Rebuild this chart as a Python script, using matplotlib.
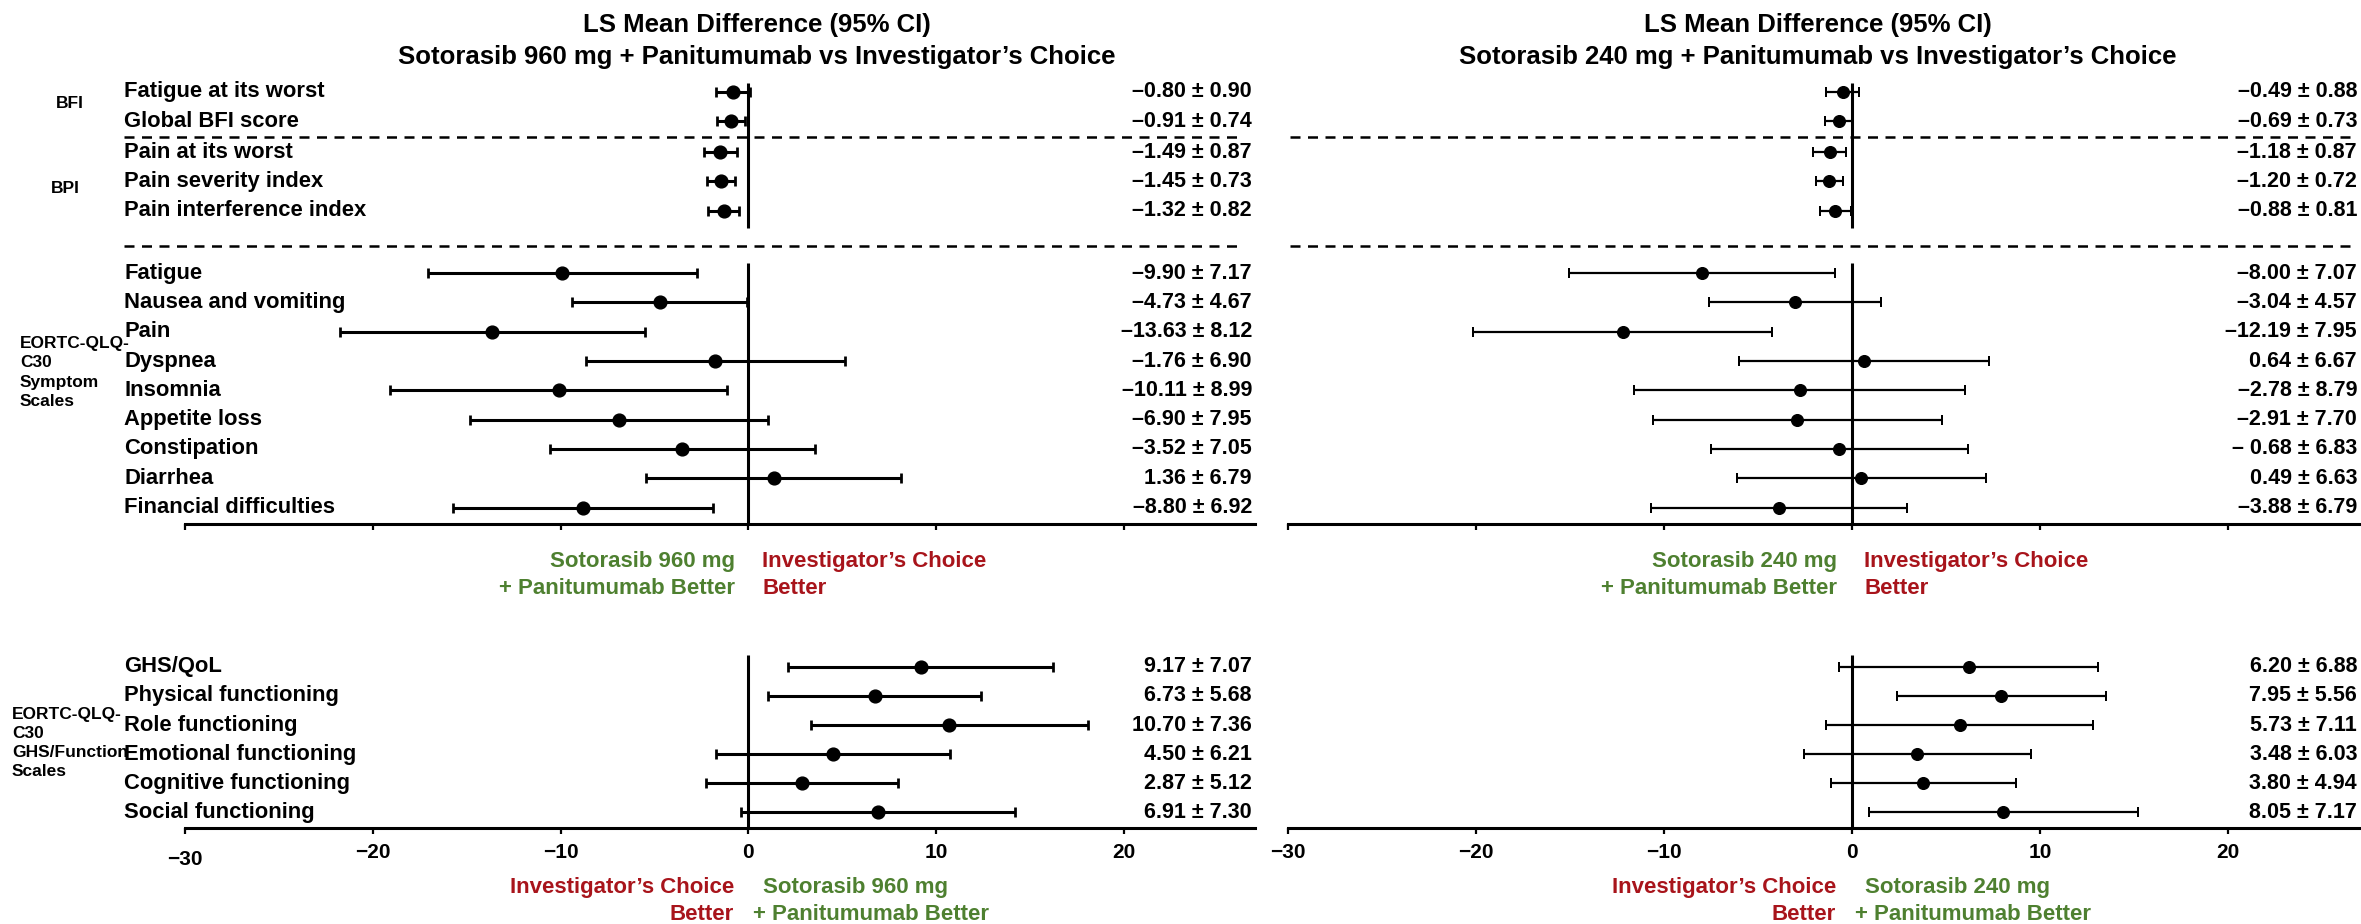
import numpy as np
import matplotlib
matplotlib.use("Agg")
import matplotlib.pyplot as plt
from matplotlib import font_manager
from matplotlib.transforms import blended_transform_factory, ScaledTranslation

# ---------------- data ----------------
bfi_labels = ["Fatigue at its worst", "Global BFI score"]
bpi_labels = ["Pain at its worst", "Pain severity index", "Pain interference index"]
symptom_labels = ["Fatigue", "Nausea and vomiting", "Pain", "Dyspnea", "Insomnia",
                  "Appetite loss", "Constipation", "Diarrhea", "Financial difficulties"]
function_labels = ["GHS/QoL", "Physical functioning", "Role functioning",
                   "Emotional functioning", "Cognitive functioning", "Social functioning"]

# Sotorasib 960 mg + panitumumab vs investigator's choice (LS mean difference, 95% CI half-width)
bfi_960_mean = [-0.80, -0.91]
bfi_960_ci = [0.90, 0.74]
bpi_960_mean = [-1.49, -1.45, -1.32]
bpi_960_ci = [0.87, 0.73, 0.82]
sym_960_mean = [-9.90, -4.73, -13.63, -1.76, -10.11, -6.90, -3.52, 1.36, -8.80]
sym_960_ci = [7.17, 4.67, 8.12, 6.90, 8.99, 7.95, 7.05, 6.79, 6.92]
fun_960_mean = [9.17, 6.73, 10.70, 4.50, 2.87, 6.91]
fun_960_ci = [7.07, 5.68, 7.36, 6.21, 5.12, 7.30]

# Sotorasib 240 mg + panitumumab vs investigator's choice
bfi_240_mean = [-0.49, -0.69]
bfi_240_ci = [0.88, 0.73]
bpi_240_mean = [-1.18, -1.20, -0.88]
bpi_240_ci = [0.87, 0.72, 0.81]
sym_240_mean = [-8.00, -3.04, -12.19, 0.64, -2.78, -2.91, -0.68, 0.49, -3.88]
sym_240_ci = [7.07, 4.57, 7.95, 6.67, 8.79, 7.70, 6.83, 6.63, 6.79]
fun_240_mean = [6.20, 7.95, 5.73, 3.48, 3.80, 8.05]
fun_240_ci = [6.88, 5.56, 7.11, 6.03, 4.94, 7.17]

x_ticks = [-30, -20, -10, 0, 10, 20]

# ---------------- style ----------------
installed = {f.name for f in font_manager.fontManager.ttflist}
MAIN_FONT = "Liberation Sans" if "Liberation Sans" in installed else "DejaVu Sans"
NARROW_FONT = "Liberation Sans Narrow" if "Liberation Sans Narrow" in installed else MAIN_FONT
plt.rcParams["font.family"] = [MAIN_FONT, "DejaVu Sans"]
plt.rcParams["font.weight"] = "bold"

GREEN = "#4E8030"
RED = "#A8141B"

W, H = 2361, 924
fig = plt.figure(figsize=(W / 100, H / 100), dpi=100)


def fx(px):
    return px / W


def fy(py):
    return 1 - py / H


def make_axes(x0, x1, ytop, ybot, ylim):
    ax = fig.add_axes([fx(x0), fy(ybot), fx(x1) - fx(x0), (ybot - ytop) / H])
    ax.set_xlim(-30, 27)
    ax.set_ylim(*ylim)
    for s in ("left", "right", "top"):
        ax.spines[s].set_visible(False)
    ax.spines["bottom"].set_linewidth(2.2)
    ax.set_yticks([])
    ax.set_xticks(x_ticks)
    ax.tick_params(axis="x", direction="out", length=4.5, width=1.6, pad=6,
                   labelsize=15)
    ax.patch.set_alpha(0)
    return ax


def fmt(m, c):
    return ("–" if m < 0 else "") + f"{abs(m):.2f} ± {c:.2f}"


# row positions (row units)
bfi_y = np.arange(2)
bpi_y = 2.05 + np.arange(3)
sym_y = 6.18 + np.arange(9)
fun_y = np.arange(6)
TOP_YLIM = (14.74, -0.58)
BOT_YLIM = (5.55, -0.93)

panels = [
    dict(x0=185, x1=185 + 57 * 18.78, label_x=124, num_x=1252, dash=(124, 1244),
         title_x=757, dose="960", lw=2.2, ms=9.2,
         bfi=(bfi_960_mean, bfi_960_ci), bpi=(bpi_960_mean, bpi_960_ci),
         sym=(sym_960_mean, sym_960_ci), fun=(fun_960_mean, fun_960_ci),
         zero_px=750),
    dict(x0=1288, x1=1288 + 57 * 18.8, label_x=None, num_x=2357, dash=(1290, 2355),
         title_x=1818, dose="240", lw=1.6, ms=8.4,
         bfi=(bfi_240_mean, bfi_240_ci), bpi=(bpi_240_mean, bpi_240_ci),
         sym=(sym_240_mean, sym_240_ci), fun=(fun_240_mean, fun_240_ci),
         zero_px=1852),
]

for p in panels:
    top = make_axes(p["x0"], p["x1"], 75, 524, TOP_YLIM)
    bot = make_axes(p["x0"], p["x1"], 640, 828, BOT_YLIM)
    top.set_xticklabels([])

    eb = dict(fmt="o", color="black", ms=p["ms"], elinewidth=p["lw"], capsize=3.6,
              capthick=p["lw"] * 0.9, clip_on=False, zorder=3)

    # zero reference lines
    top.vlines(0, -0.31, 4.64, color="black", lw=2.2, zorder=2)
    top.vlines(0, 5.84, TOP_YLIM[0], color="black", lw=2.2, zorder=2)
    bot.vlines(0, -0.41, BOT_YLIM[0], color="black", lw=2.2, zorder=2)

    groups = [(top, bfi_y, p["bfi"]), (top, bpi_y, p["bpi"]),
              (top, sym_y, p["sym"]), (bot, fun_y, p["fun"])]
    for ax, ys, (means, cis) in groups:
        ax.errorbar(means, ys, xerr=cis, **eb)
        tr_num = blended_transform_factory(fig.transFigure, ax.transData)
        texts = [fmt(m, c) for m, c in zip(means, cis)]
        if p["dose"] == "240" and ys is sym_y:
            # the constipation estimate is printed with a spaced dash
            texts[6] = texts[6].replace("–", "– ")
        for y, t in zip(ys, texts):
            ax.text(fx(p["num_x"]), y, t, transform=tr_num, ha="right", va="center",
                    fontsize=15.5, fontweight="bold")

    # section separators
    tr_top = blended_transform_factory(fig.transFigure, top.transData)
    for yd in (1.525, 5.26):
        top.plot([fx(p["dash"][0]), fx(p["dash"][1])], [yd, yd], transform=tr_top,
                 color="black", lw=1.8, ls=(0, (4, 3)), clip_on=False)

    # row labels (left panel only)
    if p["label_x"] is not None:
        tr_lab_top = blended_transform_factory(fig.transFigure, top.transData)
        tr_lab_bot = blended_transform_factory(fig.transFigure, bot.transData)
        for ys, labs in ((bfi_y, bfi_labels), (bpi_y, bpi_labels), (sym_y, symptom_labels)):
            for y, t in zip(ys, labs):
                top.text(fx(p["label_x"]), y, t, transform=tr_lab_top, ha="left",
                         va="center", fontsize=15.8, fontweight="bold")
        for y, t in zip(fun_y, function_labels):
            bot.text(fx(p["label_x"]), y, t, transform=tr_lab_bot, ha="left",
                     va="center", fontsize=15.8, fontweight="bold")

        grp = dict(ha="left", va="center", fontsize=12.5, fontweight="bold",
                   family=[NARROW_FONT, "DejaVu Sans"], linespacing=1.36)
        top.text(fx(56), 0.4, "BFI", transform=tr_lab_top, **grp)
        top.text(fx(51), 3.3, "BPI", transform=tr_lab_top, **grp)
        top.text(fx(20), 9.57, "EORTC-QLQ-\nC30\nSymptom\nScales", transform=tr_lab_top, **grp)
        bot.text(fx(12), 2.62, "EORTC-QLQ-\nC30\nGHS/Function\nScales", transform=tr_lab_bot, **grp)

        # the leftmost tick label sits slightly lower
        lab = bot.get_xticklabels()[0]
        lab.set_transform(lab.get_transform() + ScaledTranslation(0, -0.07, fig.dpi_scale_trans))

    # titles
    fig.text(fx(p["title_x"]), fy(25), "LS Mean Difference (95% CI)", ha="center",
             va="center", fontsize=18.5, fontweight="bold")
    fig.text(fx(p["title_x"]), fy(57),
             f"Sotorasib {p['dose']} mg + Panitumumab vs Investigator’s Choice",
             ha="center", va="center", fontsize=18.5, fontweight="bold")

    # direction annotations
    z = p["zero_px"]
    lbl = dict(va="center", fontsize=16, fontweight="bold")
    fig.text(fx(z - 15), fy(562), f"Sotorasib {p['dose']} mg", ha="right", color=GREEN, **lbl)
    fig.text(fx(z - 15), fy(589), "+ Panitumumab Better", ha="right", color=GREEN, **lbl)
    fig.text(fx(z + 12), fy(562), "Investigator’s Choice", ha="left", color=RED, **lbl)
    fig.text(fx(z + 12), fy(589), "Better", ha="left", color=RED, **lbl)

    fig.text(fx(z - 16), fy(888), "Investigator’s Choice", ha="right", color=RED, **lbl)
    fig.text(fx(z - 16), fy(915), "Better", ha="right", color=RED, **lbl)
    fig.text(fx(z + 13), fy(888), f"Sotorasib {p['dose']} mg", ha="left", color=GREEN, **lbl)
    fig.text(fx(z + 3), fy(915), "+ Panitumumab Better", ha="left", color=GREEN, **lbl)

fig.savefig("out.png", dpi=100, facecolor="white")
